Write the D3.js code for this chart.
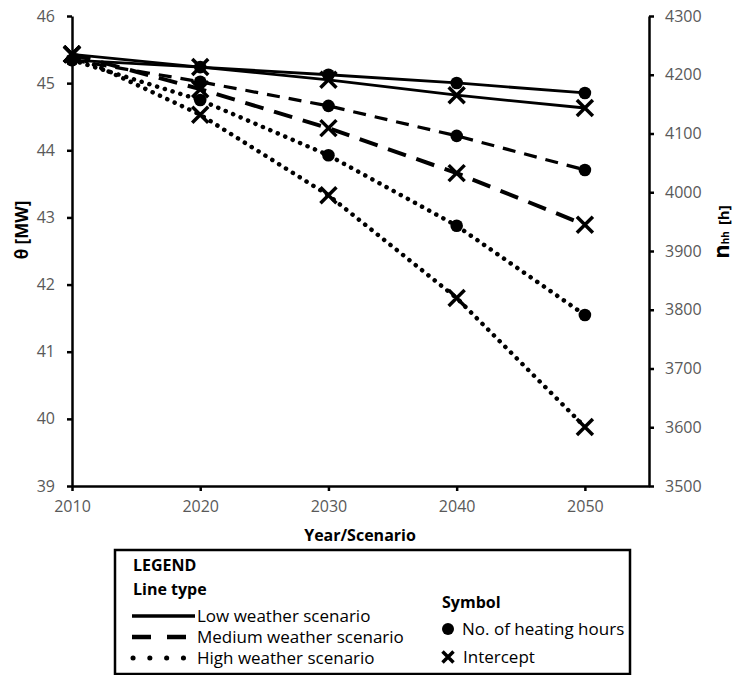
<!DOCTYPE html>
<html>
<head>
<meta charset="utf-8">
<script src="https://d3js.org/d3.v7.min.js"></script>
<style>
  body { margin: 0; background: #fff; }
  svg { font-family: "Open Sans", sans-serif; }
  .axis text { fill: #595959; font-size: 16px; font-family: "Open Sans", sans-serif; }
  .axis path, .axis line { stroke: #000; stroke-width: 2.5px; }
</style>
</head>
<body>
<svg width="735" height="675"></svg>
<script>
// data
var years = [2010, 2020, 2030, 2040, 2050];
var leftTicks = [39, 40, 41, 42, 43, 44, 45, 46];
var rightTicks = [3500, 3600, 3700, 3800, 3900, 4000, 4100, 4200, 4300];

// No. of heating hours (right axis, circles)
var heatLow = [4225, 4213, 4200, 4186, 4169];
var heatMed = [4225, 4188, 4147, 4096, 4038];
var heatHigh = [4225, 4157, 4063, 3943, 3791];

// Intercept (left axis, crosses)
var interLow = [45.43, 45.24, 45.05, 44.82, 44.63];
var interMed = [45.43, 44.91, 44.33, 43.66, 42.89];
var interHigh = [45.43, 44.53, 43.33, 41.80, 39.88];

var svg = d3.select("svg");

var x = d3.scaleLinear().domain([2010, 2055]).range([72, 649]);
var yL = d3.scaleLinear().domain([39, 46]).range([486, 16]);
var yR = d3.scaleLinear().domain([3500, 4300]).range([486, 16]);

svg.append("g")
    .attr("class", "axis")
    .attr("transform", "translate(0,486)")
    .call(d3.axisBottom(x).tickValues(years).tickFormat(d3.format("d")).tickSize(5).tickSizeOuter(0).tickPadding(10));

svg.append("g")
    .attr("class", "axis")
    .attr("transform", "translate(72,0)")
    .call(d3.axisLeft(yL).tickValues(leftTicks).tickFormat(d3.format("d")).tickSize(5).tickSizeOuter(0).tickPadding(12));

svg.append("g")
    .attr("class", "axis")
    .attr("transform", "translate(649,0)")
    .call(d3.axisRight(yR).tickValues(rightTicks).tickFormat(d3.format("d")).tickSize(5).tickSizeOuter(0).tickPadding(11));

// series: line style per scenario
var series = [
    {vals: heatLow, scale: yR, sym: "circle", dash: null, w: 2.8, cap: "butt"},
    {vals: interLow, scale: yL, sym: "cross", dash: null, w: 2.8, cap: "butt"},
    {vals: heatMed, scale: yR, sym: "circle", dash: "13,9", w: 3.2, cap: "butt"},
    {vals: interMed, scale: yL, sym: "cross", dash: "19,11", w: 4, cap: "butt"},
    {vals: heatHigh, scale: yR, sym: "circle", dash: "0.1,8", w: 4.5, cap: "round"},
    {vals: interHigh, scale: yL, sym: "cross", dash: "0.1,8", w: 4.5, cap: "round"}
];

series.forEach(function(s) {
    var line = d3.line()
        .x(function(d, i) { return x(years[i]); })
        .y(function(d) { return s.scale(d); });
    svg.append("path")
        .datum(s.vals)
        .attr("d", line)
        .attr("fill", "none")
        .attr("stroke", "#000")
        .attr("stroke-width", s.w)
        .attr("stroke-linecap", s.cap)
        .attr("stroke-dasharray", s.dash);
});

function drawCross(g, cx, cy, h) {
    g.append("path")
        .attr("d", "M" + (cx - h) + "," + (cy - h) + "L" + (cx + h) + "," + (cy + h) +
                   "M" + (cx - h) + "," + (cy + h) + "L" + (cx + h) + "," + (cy - h))
        .attr("stroke", "#000")
        .attr("stroke-width", 3.5)
        .attr("fill", "none");
}

series.forEach(function(s) {
    s.vals.forEach(function(v, i) {
        if (s.sym == "circle") {
            svg.append("circle")
                .attr("cx", x(years[i]))
                .attr("cy", s.scale(v))
                .attr("r", 6.3)
                .attr("fill", "#000");
        } else {
            drawCross(svg, x(years[i]), s.scale(v), 8);
        }
    });
});

// axis titles
svg.append("text")
    .attr("x", 360).attr("y", 541)
    .attr("text-anchor", "middle")
    .style("font-weight", "bold").style("font-size", "16px")
    .text("Year/Scenario");

svg.append("text")
    .attr("transform", "translate(28,230) rotate(-90)")
    .attr("text-anchor", "middle")
    .style("font-weight", "bold").style("font-size", "17px")
    .text("θ [MW]");

var rt = svg.append("text")
    .attr("transform", "translate(729,232) rotate(-90)")
    .attr("text-anchor", "middle")
    .style("font-weight", "bold");
rt.append("tspan").style("font-size", "22px").text("n");
rt.append("tspan").style("font-size", "10px").text("hh");
rt.append("tspan").style("font-size", "15px").attr("dx", 6).text("[h]");

// legend
var lg = svg.append("g");
lg.append("rect")
    .attr("x", 115).attr("y", 550)
    .attr("width", 515).attr("height", 124)
    .attr("fill", "none").attr("stroke", "#000").attr("stroke-width", 2.5);

lg.append("text").attr("x", 133).attr("y", 571)
    .style("font-weight", "bold").style("font-size", "16px").text("LEGEND");
lg.append("text").attr("x", 133).attr("y", 595)
    .style("font-weight", "bold").style("font-size", "16px").text("Line type");
lg.append("text").attr("x", 442).attr("y", 608)
    .style("font-weight", "bold").style("font-size", "16px").text("Symbol");

var lineTypes = ["Low weather scenario", "Medium weather scenario", "High weather scenario"];
var legDash = [null, "19,16", "0.1,16.7"];
var legCap = ["butt", "butt", "round"];
var legW = [3.5, 4.5, 5];
lineTypes.forEach(function(t, i) {
    var yy = 616 + i * 21;
    lg.append("line")
        .attr("x1", i == 2 ? 133 : 132).attr("x2", i == 2 ? 186 : (i == 1 ? 187 : 195))
        .attr("y1", yy).attr("y2", yy)
        .attr("stroke", "#000")
        .attr("stroke-width", legW[i])
        .attr("stroke-linecap", legCap[i])
        .attr("stroke-dasharray", legDash[i]);
    lg.append("text").attr("x", 197).attr("y", yy + 6)
        .style("font-size", "17px").text(t);
});

lg.append("circle").attr("cx", 448).attr("cy", 629).attr("r", 6).attr("fill", "#000");
lg.append("text").attr("x", 462).attr("y", 635).style("font-size", "17px").text("No. of heating hours");
drawCross(lg, 448, 657, 5.5);
lg.append("text").attr("x", 463).attr("y", 663).style("font-size", "17px").text("Intercept");
</script>
</body>
</html>
